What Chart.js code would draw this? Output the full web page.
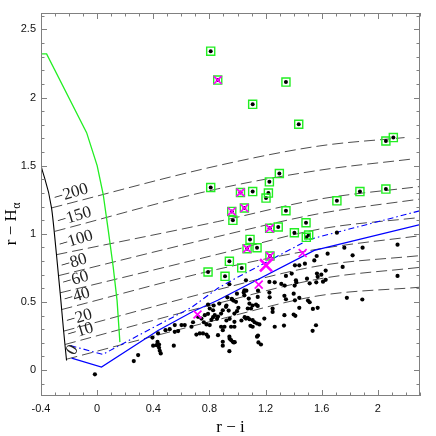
<!DOCTYPE html>
<html>
<head>
<meta charset="utf-8">
<script src="https://cdn.jsdelivr.net/npm/chart.js@4.4.1/dist/chart.umd.min.js"></script>
<style>
  body { margin: 0; background: #fff; }
  canvas { display: block; }
</style>
</head>
<body>
<canvas id="cc" width="436" height="436"></canvas>
<script>
// axis ticks
const xTicks = [-0.4, 0, 0.4, 0.8, 1.2, 1.6, 2];
const yTicks = [0, 0.5, 1, 1.5, 2, 2.5];

// lines of constant Halpha EW
const ewLabels = ['\u2212200', '\u2212150', '\u2212100', '\u221280', '\u221260', '\u221240', '\u221220', '\u221210', '0'];
const ewX0 = [-0.325, -0.302, -0.29, -0.275, -0.264, -0.254, -0.238, -0.229, -0.218];
const ewY0 = [1.19, 1.018, 0.847, 0.693, 0.567, 0.444, 0.286, 0.188, 0.08];
const ewMidX = [0.86, 1.587];
const ewY1 = [1.50, 1.33, 1.09, 0.98, 0.85, 0.74, 0.59, 0.49, 0.37];
const ewY2 = [1.645, 1.467, 1.255, 1.149, 1.035, 0.89, 0.766, 0.67, 0.547];
const ewXe = [2.19, 2.238, 2.3, 2.3, 2.3, 2.3, 2.3, 2.3, 2.3];
const ewYe = [1.706, 1.548, 1.347, 1.255, 1.12, 0.986, 0.84, 0.754, 0.608];

// curves
const blackX = [-0.4, -0.325, -0.29, -0.262, -0.24, -0.218];
const blackY = [1.5, 1.19, 0.85, 0.55, 0.3, 0.07];
const greenX = [-0.4, -0.36, -0.075, 0.0, 0.043, 0.08, 0.114, 0.142, 0.162];
const greenY = [2.32, 2.32, 1.742, 1.5, 1.29, 1.02, 0.76, 0.51, 0.205];
const blueX = [-0.182, 0.031, 0.434, 0.672, 0.859, 1.547, 2.3];
const blueY = [0.088, 0.022, 0.29, 0.425, 0.512, 0.878, 1.067];
const dashDotX = [-0.19, 0.04, 0.34, 0.672, 0.859, 0.98, 1.512, 2.3];
const dashDotY = [0.18, 0.115, 0.28, 0.46, 0.6, 0.67, 0.959, 1.169];

// stars
const dotX = [-0.016,0.261,0.292,0.394,0.434,0.399,0.423,0.441,0.43,0.441,0.446,0.453,0.546,0.487,0.517,0.553,0.553,0.577,0.601,0.624,0.672,
  0.707,0.731,0.754,0.779,0.79,0.719,0.743,0.767,0.779,0.802,0.683,0.76,0.79,0.802,0.826,0.838,0.83,0.87,0.79,0.814,0.826,0.861,0.854,0.861,
  0.918,0.895,0.883,0.996,0.978,1.073,1.06,1.085,1.108,1.191,1.139,1.156,1.092,1.108,0.978,0.978,0.954,0.883,0.907,0.895,
  1.139,1.149,1.167,0.942,0.966,0.954,0.973,0.942,0.895,0.895,0.928,0.961,0.937,0.996,0.989,1.006,1.049,1.044,1.049,1.063,1.08,
  1.144,1.132,1.144,1.146,1.085,1.073,1.096,1.06,0.942,1.227,1.229,1.25,1.25,1.265,1.331,1.334,1.4,1.412,1.334,1.345,1.4,1.409,1.44,
  1.571,1.44,1.537,1.502,1.514,1.559,1.535,1.265,1.312,1.336,1.407,1.419,1.514,1.561,1.227,1.386,1.345,1.416,1.495,1.566,1.571,
  1.409,1.44,1.48,1.564,1.547,1.642,1.761,1.891,1.82,1.749,1.597,1.628,1.609,1.628,1.779,1.889,2.14,2.14,1.708,
  0.959,0.971,0.921,1.051,1.122,0.944,0.921,1.028,1.146,0.944,0.98,1.107];
const dotY = [-0.031,0.066,0.11,0.239,0.269,0.179,0.183,0.188,0.207,0.164,0.142,0.122,0.179,0.293,0.3,0.33,0.281,0.286,0.33,0.33,0.318,
  0.261,0.269,0.269,0.261,0.245,0.391,0.378,0.403,0.335,0.33,0.351,0.351,0.481,0.452,0.439,0.403,0.474,0.488,0.413,0.369,0.388,0.393,0.376,0.256,
  0.464,0.439,0.415,0.432,0.415,0.384,0.378,0.373,0.366,0.378,0.342,0.335,0.325,0.318,0.354,0.318,0.318,0.318,0.318,0.293,
  0.245,0.203,0.188,0.245,0.208,0.22,0.203,0.139,0.208,0.179,0.534,0.518,0.437,0.561,0.501,0.457,0.586,0.569,0.549,0.583,0.525,
  0.537,0.481,0.471,0.583,0.488,0.452,0.452,0.659,0.63,0.569,0.534,0.452,0.427,0.318,0.327,0.403,0.408,0.398,0.545,0.52,0.561,0.512,0.53,
  0.457,0.457,0.449,0.51,0.498,0.329,0.288,0.644,0.632,0.62,0.62,0.644,0.637,0.644,0.647,0.708,0.691,0.659,0.671,0.708,0.684,
  0.769,0.769,0.781,0.837,0.805,0.854,0.898,0.898,0.842,0.757,0.7,0.73,0.649,0.662,0.53,0.518,0.92,0.691,1.008,
  0.523,0.51,0.474,0.388,0.351,0.376,0.364,0.364,0.254,0.23,0.205,0.474];

// emission-line candidates (boxed)
const candX = [0.809,0.859,1.345,1.108,1.436,2.057,2.11,0.809,1.298,1.227,1.021,1.108,1.22,1.203,1.872,2.057,1.708,0.959,1.049,1.345,
  0.967,1.229,1.29,1.488,1.405,1.507,1.49,1.089,1.068,1.139,1.231,0.942,1.03,0.911,0.79];
const candY = [2.34,2.128,2.113,1.95,1.804,1.681,1.706,1.34,1.442,1.381,1.303,1.31,1.299,1.262,1.31,1.328,1.242,1.164,1.189,1.169,
  1.099,1.04,1.05,1.081,1.008,0.991,0.974,0.959,0.891,0.898,0.837,0.798,0.75,0.688,0.72];

// crosses
const crossX = [0.859,1.021,0.959,1.049,1.229,1.068,1.231,1.464,1.151,0.715];
const crossY = [2.128,1.303,1.164,1.189,1.04,0.891,0.837,0.859,0.627,0.408];
const bigCrossX = [1.203];
const bigCrossY = [0.769];

const pts = (xs, ys) => xs.map((v, i) => ({x: v, y: ys[i]}));

const ewSets = ewLabels.map((lab, i) => ({
  label: 'EW ' + lab,
  data: pts([ewX0[i], ewMidX[0], ewMidX[1], ewXe[i]], [ewY0[i], ewY1[i], ewY2[i], ewYe[i]]),
  showLine: true, pointRadius: 0, borderColor: '#3a3a3a', borderWidth: 0.9,
  borderDash: [11, 5], cubicInterpolationMode: 'monotone', order: 20
}));

const decor = {
  id: 'decor',
  afterDatasetsDraw(chart) {
    const {ctx, chartArea: a, scales: {x, y}} = chart;
    ctx.save();
    ctx.strokeStyle = '#808080';
    ctx.lineWidth = 1;
    ctx.strokeRect(a.left + 0.5, a.top + 0.5, a.width - 1, a.height - 1);
    ctx.beginPath();
    for (let i = -4; i <= 23; i++) {
      const v = i / 10;
      const px = Math.round(x.getPixelForValue(v)) + 0.5;
      const len = xTicks.some(t => Math.abs(t - v) < 1e-6) ? 6 : 3.5;
      ctx.moveTo(px, a.bottom); ctx.lineTo(px, a.bottom - len);
      ctx.moveTo(px, a.top); ctx.lineTo(px, a.top + len);
    }
    for (let i = -1; i <= 26; i++) {
      const v = i / 10;
      const py = Math.round(y.getPixelForValue(v)) + 0.5;
      const len = yTicks.some(t => Math.abs(t - v) < 1e-6) ? 6 : 3.5;
      ctx.moveTo(a.left, py); ctx.lineTo(a.left + len, py);
      ctx.moveTo(a.right, py); ctx.lineTo(a.right - len, py);
    }
    ctx.stroke();

    // EW labels at the start of each line
    ctx.fillStyle = '#222';
    ctx.font = '17px "Liberation Serif", "DejaVu Serif", serif';
    ewLabels.forEach((lab, i) => {
      const sx = x.getPixelForValue(ewX0[i]);
      const sy = y.getPixelForValue(ewY0[i]);
      ctx.save();
      if (lab === '0') {
        ctx.translate(sx + 6, sy - 9);
        ctx.rotate(-60 * Math.PI / 180);
        ctx.textAlign = 'center';
        ctx.textBaseline = 'middle';
      } else {
        ctx.translate(sx + 4, sy - 5);
        ctx.rotate(-17 * Math.PI / 180);
        ctx.textAlign = 'left';
        ctx.textBaseline = 'alphabetic';
      }
      ctx.fillText(lab, 0, 0);
      ctx.restore();
    });

    // axis titles
    ctx.fillStyle = '#000';
    ctx.font = '17px "Liberation Serif", "DejaVu Serif", serif';
    ctx.textAlign = 'center';
    ctx.textBaseline = 'alphabetic';
    ctx.fillText('r \u2212 i', (a.left + a.right) / 2, 432);

    ctx.save();
    ctx.translate(16, 224);
    ctx.rotate(-Math.PI / 2);
    ctx.textAlign = 'left';
    const main = 'r \u2212 H';
    const w1 = ctx.measureText(main).width;
    ctx.font = '12px "Liberation Serif", "DejaVu Serif", serif';
    const w2 = ctx.measureText('\u03b1').width;
    const start = -(w1 + w2) / 2;
    ctx.font = '17px "Liberation Serif", "DejaVu Serif", serif';
    ctx.fillText(main, start, 0);
    ctx.font = '12px "Liberation Serif", "DejaVu Serif", serif';
    ctx.fillText('\u03b1', start + w1 + 0.5, 4);
    ctx.restore();
    ctx.restore();
  }
};

new Chart(document.getElementById('cc'), {
  type: 'scatter',
  data: {
    datasets: [
      { label: 'big cross', data: pts(bigCrossX, bigCrossY), pointStyle: 'crossRot', pointRadius: 8.5,
        borderColor: '#ff00ff', borderWidth: 2.6, order: 0 },
      { label: 'cross', data: pts(crossX, crossY), pointStyle: 'crossRot', pointRadius: 5.6,
        borderColor: '#ff00ff', borderWidth: 1.7, order: 1 },
      { label: 'boxes', data: pts(candX, candY), pointStyle: 'rect', pointRadius: 5.7,
        borderColor: '#22ee22', backgroundColor: 'rgba(0,0,0,0)', borderWidth: 1.4, order: 2 },
      { label: 'box stars', data: pts(candX, candY), pointRadius: 2, borderWidth: 0,
        backgroundColor: '#000', order: 3 },
      { label: 'stars', data: pts(dotX, dotY), pointRadius: 2.1, borderWidth: 0,
        backgroundColor: '#000', order: 4 },
      { label: 'blue', data: pts(blueX, blueY), showLine: true, pointRadius: 0,
        borderColor: '#0000ff', borderWidth: 1.2, order: 10 },
      { label: 'blue dash-dot', data: pts(dashDotX, dashDotY), showLine: true, pointRadius: 0,
        borderColor: '#0000ff', borderWidth: 1.1, borderDash: [6, 3, 1.5, 3], order: 11 },
      { label: 'green', data: pts(greenX, greenY), showLine: true, pointRadius: 0,
        borderColor: '#22ee22', borderWidth: 1.3, order: 12 },
      { label: 'black', data: pts(blackX, blackY), showLine: true, pointRadius: 0,
        borderColor: '#000', borderWidth: 1.1, cubicInterpolationMode: 'monotone', order: 13 },
      ...ewSets
    ]
  },
  options: {
    responsive: false,
    animation: false,
    layout: { padding: { top: 13, right: 16, left: 0, bottom: 0 } },
    plugins: { legend: { display: false }, tooltip: { enabled: false } },
    scales: {
      x: {
        type: 'linear', min: -0.4, max: 2.3,
        grid: { display: false, drawTicks: false }, border: { display: false },
        ticks: { autoSkip: false, maxRotation: 0, padding: 6, color: '#111',
          font: { family: '"Liberation Sans", Arial, sans-serif', size: 11 },
          callback: v => String(Math.round(v * 10) / 10) },
        afterBuildTicks: s => { s.ticks = xTicks.map(v => ({ value: v })); },
        afterFit: s => { s.height = 40; }
      },
      y: {
        type: 'linear', min: -0.19, max: 2.62,
        grid: { display: false, drawTicks: false }, border: { display: false },
        ticks: { autoSkip: false, padding: 5, color: '#111',
          font: { family: '"Liberation Sans", Arial, sans-serif', size: 11 },
          callback: v => String(Math.round(v * 10) / 10) },
        afterBuildTicks: s => { s.ticks = yTicks.map(v => ({ value: v })); },
        afterFit: s => { s.width = 41; }
      }
    }
  },
  plugins: [decor]
});
</script>
</body>
</html>
